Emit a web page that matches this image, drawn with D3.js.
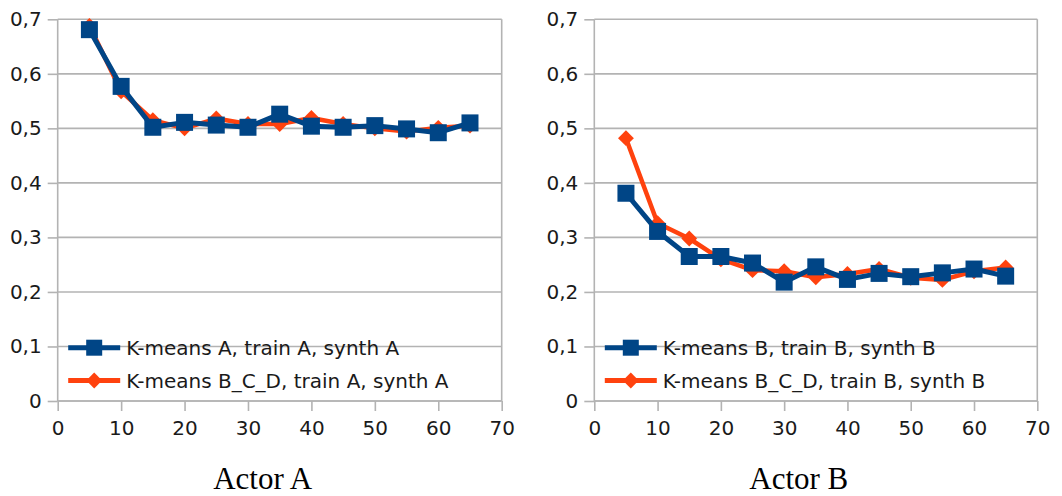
<!DOCTYPE html>
<html>
<head>
<meta charset="utf-8">
<script src="https://cdn.jsdelivr.net/npm/d3@7"></script>
<style>
  html, body { margin: 0; padding: 0; background: #fff; }
  svg { display: block; }
  .tick text { font-family: "DejaVu Sans", sans-serif; font-size: 20px; fill: #1a1a1a; }
</style>
</head>
<body>
<svg id="chart" width="1062" height="496"></svg>
<script>
// ---- data ----
const xValues = [5, 10, 15, 20, 25, 30, 35, 40, 45, 50, 55, 60, 65];
const actorA_kmeansA   = [0.681, 0.577, 0.502, 0.511, 0.506, 0.502, 0.526, 0.504, 0.502, 0.505, 0.499, 0.492, 0.510];
const actorA_kmeansBCD = [0.688, 0.568, 0.515, 0.500, 0.518, 0.508, 0.508, 0.519, 0.508, 0.500, 0.494, 0.501, 0.505];
const actorB_kmeansB   = [0.381, 0.311, 0.265, 0.265, 0.253, 0.218, 0.246, 0.223, 0.234, 0.228, 0.235, 0.242, 0.229];
const actorB_kmeansBCD = [0.482, 0.326, 0.298, 0.260, 0.240, 0.238, 0.227, 0.233, 0.242, 0.226, 0.222, 0.238, 0.245];
const yTicks = [0, 0.1, 0.2, 0.3, 0.4, 0.5, 0.6, 0.7];
const xTicks = [0, 10, 20, 30, 40, 50, 60, 70];
const seriesNamesA = ["K-means A, train A, synth A", "K-means B_C_D, train A, synth A"];
const seriesNamesB = ["K-means B, train B, synth B", "K-means B_C_D, train B, synth B"];
const chartTitles = ["Actor A", "Actor B"];

const BLUE = "#004586", ORANGE = "#ff420e", GRID = "#b3b3b3";
const locale = d3.formatLocale({decimal: ",", thousands: ".", grouping: [3], currency: ["", ""]});
const fmt1 = locale.format(".1f");
const yFmt = d => d === 0 ? "0" : fmt1(d);

const svg = d3.select("#chart");

function drawPanel(left, right, names, blueVals, orangeVals, title) {
  const top = 19.3, bottom = 401;
  const x = d3.scaleLinear().domain([0, 70]).range([left, right]);
  const y = d3.scaleLinear().domain([0, 0.7]).range([bottom, top]);
  const g = svg.append("g");

  // gridlines
  g.append("g").selectAll("line").data(yTicks).join("line")
    .attr("x1", left).attr("x2", right)
    .attr("y1", d => y(d)).attr("y2", d => y(d))
    .attr("stroke", GRID).attr("stroke-width", 1.6);
  // right border
  g.append("line").attr("x1", right).attr("x2", right).attr("y1", top).attr("y2", bottom)
    .attr("stroke", GRID).attr("stroke-width", 1.6);

  // axes
  const ya = g.append("g").attr("transform", `translate(${left},0)`)
    .call(d3.axisLeft(y).tickValues(yTicks).tickFormat(yFmt).tickSize(10).tickPadding(6));
  const xa = g.append("g").attr("transform", `translate(0,${bottom})`)
    .call(d3.axisBottom(x).tickValues(xTicks).tickFormat(d3.format("d")).tickSize(10).tickPadding(10));
  [ya, xa].forEach(a => {
    a.select(".domain").attr("stroke", GRID).attr("stroke-width", 1.6);
    a.selectAll(".tick line").attr("stroke", GRID).attr("stroke-width", 1.6);
  });
  ya.select(".domain").attr("d", `M0,${top}V${bottom}`);
  xa.select(".domain").attr("d", `M${left},0H${right}`);

  const line = d3.line().x(d => x(d[0])).y(d => y(d[1]));
  const orangeData = xValues.map((v, i) => [v, orangeVals[i]]);
  const blueData = xValues.map((v, i) => [v, blueVals[i]]);
  const diamond = d3.symbol().type(d3.symbolDiamond2).size(160);

  // orange series
  g.append("path").datum(orangeData).attr("d", line)
    .attr("fill", "none").attr("stroke", ORANGE).attr("stroke-width", 4.5).attr("stroke-linejoin", "round");
  g.append("g").selectAll("path").data(orangeData).join("path")
    .attr("d", diamond).attr("transform", d => `translate(${x(d[0])},${y(d[1])})`)
    .attr("fill", ORANGE);

  // blue series
  g.append("path").datum(blueData).attr("d", line)
    .attr("fill", "none").attr("stroke", BLUE).attr("stroke-width", 5).attr("stroke-linejoin", "round");
  g.append("g").selectAll("rect").data(blueData).join("rect")
    .attr("x", d => x(d[0]) - 8.5).attr("y", d => y(d[1]) - 8.5)
    .attr("width", 17).attr("height", 17).attr("fill", BLUE);

  // legend
  const lx = left + 10.5, ly = [347.7, 380.5];
  const leg = g.append("g");
  leg.append("line").attr("x1", lx).attr("x2", lx + 52).attr("y1", ly[0]).attr("y2", ly[0])
    .attr("stroke", BLUE).attr("stroke-width", 5);
  leg.append("rect").attr("x", lx + 26 - 8).attr("y", ly[0] - 8).attr("width", 16).attr("height", 16).attr("fill", BLUE);
  leg.append("line").attr("x1", lx).attr("x2", lx + 52).attr("y1", ly[1]).attr("y2", ly[1])
    .attr("stroke", ORANGE).attr("stroke-width", 5);
  leg.append("path").attr("d", diamond).attr("transform", `translate(${lx + 26},${ly[1]})`).attr("fill", ORANGE);
  leg.selectAll("text").data(names).join("text")
    .attr("x", lx + 58).attr("y", (d, i) => ly[i] + 7.5)
    .attr("font-family", "DejaVu Sans, sans-serif").attr("font-size", 20).attr("fill", "#1a1a1a")
    .text(d => d);

  // title
  g.append("text").attr("x", (left + right) / 2 - 17).attr("y", 489)
    .attr("text-anchor", "middle")
    .attr("font-family", "Liberation Serif, Times New Roman, serif").attr("font-size", 31).attr("fill", "#000")
    .text(title);
}

drawPanel(57.7, 501.7, seriesNamesA, actorA_kmeansA, actorA_kmeansBCD, chartTitles[0]);
drawPanel(594.3, 1037.3, seriesNamesB, actorB_kmeansB, actorB_kmeansBCD, chartTitles[1]);
</script>
</body>
</html>
